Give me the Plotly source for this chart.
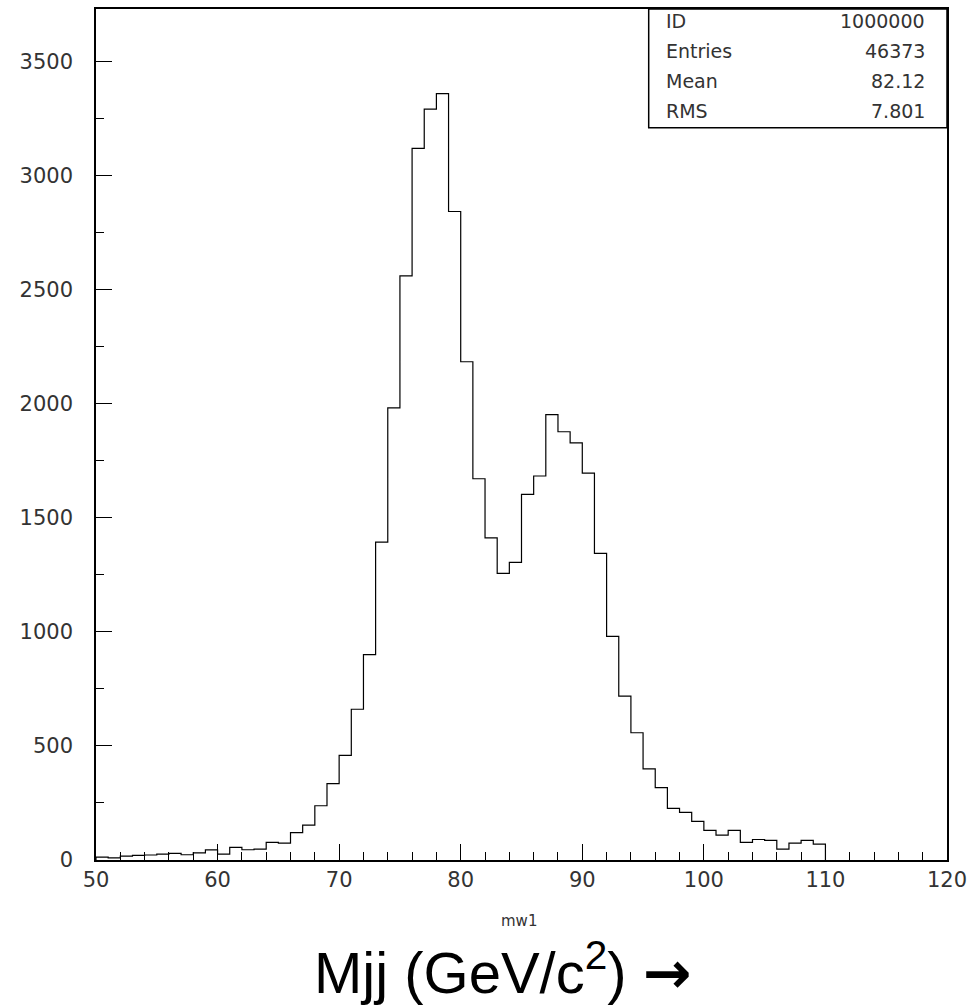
import plotly.graph_objects as go

# Histogram of mw1: 1-unit bins from 50 to 110
bin_low = list(range(50, 110))
counts = [13, 9, 17, 20, 22, 26, 29, 23, 31, 44,
          26, 55, 45, 48, 77, 74, 120, 153, 238, 335,
          459, 661, 901, 1394, 1983, 2562, 3121, 3293, 3361, 2844,
          2185, 1672, 1413, 1257, 1305, 1603, 1684, 1953, 1878, 1829,
          1697, 1345, 981, 719, 558, 400, 317, 226, 209, 169,
          130, 109, 130, 77, 90, 86, 48, 74, 86, 70]
bin_width = 1
x_tick_vals = [50, 60, 70, 80, 90, 100, 110, 120]
y_tick_vals = [0, 500, 1000, 1500, 2000, 2500, 3000, 3500]

stat_labels = ["ID", "Entries", "Mean", "RMS"]
stat_values = ["1000000", "46373", "82.12", "7.801"]

x_step = [bin_low[0]] + bin_low + [bin_low[-1] + bin_width]
y_step = [0] + counts + [0]

fig = go.Figure()
fig.add_trace(go.Scatter(x=x_step, y=y_step, mode="lines",
                         line=dict(shape="hv", color="black", width=1.2),
                         hoverinfo="skip", showlegend=False))

W, H = 974, 1007
L, R, T, B = 96, 25, 7, 147
pw, ph = W - L - R, H - T - B

def px(x):
    return (x - L) / pw

def py(y):
    return (H - B - y) / ph

tickfont = dict(family="DejaVu Sans", size=21, color="#333")
fig.update_layout(
    width=W, height=H,
    margin=dict(l=L, r=R, t=T, b=B),
    paper_bgcolor="white", plot_bgcolor="white",
    xaxis=dict(range=[50, 120], tickvals=x_tick_vals, ticks="inside", ticklen=16,
               tickcolor="black", tickwidth=1.2, showgrid=False, zeroline=False,
               showline=True, linecolor="black", linewidth=1.5, mirror=True,
               tickfont=tickfont, ticklabelstandoff=0,
               minor=dict(dtick=2, ticks="inside", ticklen=8, tickcolor="black",
                          tickwidth=1.2, showgrid=False)),
    yaxis=dict(range=[0, 3732], tickvals=y_tick_vals, ticks="inside", ticklen=16,
               tickcolor="black", tickwidth=1.2, showgrid=False, zeroline=False,
               showline=True, linecolor="black", linewidth=1.5, mirror=True,
               tickfont=tickfont, ticklabelstandoff=17,
               minor=dict(dtick=250, ticks="inside", ticklen=8, tickcolor="black",
                          tickwidth=1.2, showgrid=False)),
)

# stat box
fig.add_shape(type="rect", xref="paper", yref="paper",
              x0=px(650), x1=1, y0=py(126), y1=1,
              line=dict(color="black", width=1.5), fillcolor="white")
row_y = [19, 49, 79, 109]
statfont = dict(family="DejaVu Sans", size=19, color="#333")
for lab, val, yy in zip(stat_labels, stat_values, row_y):
    fig.add_annotation(x=px(665), y=py(yy), xref="paper", yref="paper", text=lab,
                       showarrow=False, xanchor="left", yanchor="middle", font=statfont)
    fig.add_annotation(x=px(929), y=py(yy), xref="paper", yref="paper", text=val,
                       showarrow=False, xanchor="right", yanchor="middle", font=statfont)

fig.add_annotation(x=px(520), y=py(921), xref="paper", yref="paper", text="mw1",
                   showarrow=False, xanchor="center", yanchor="middle",
                   font=dict(family="DejaVu Sans", size=15, color="#333"))
fig.add_annotation(x=px(503), y=py(970), xref="paper", yref="paper",
                   text="Mjj (GeV/c<sup>2</sup>) <span style='font-family:DejaVu Sans'><b>\u2192</b></span>",
                   showarrow=False, xanchor="center", yanchor="middle",
                   font=dict(family="Liberation Sans", size=58, color="black"))

fig.write_html("out.html")
